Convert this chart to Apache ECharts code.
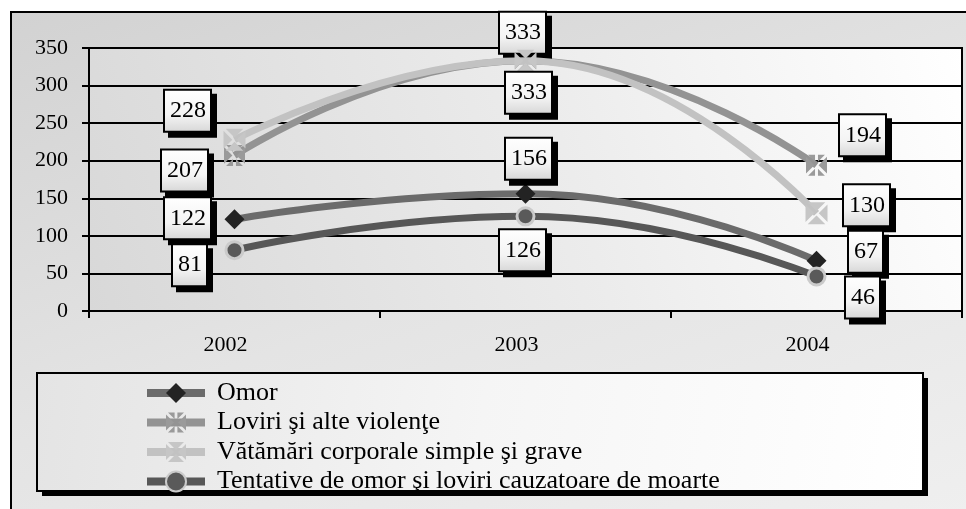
<!DOCTYPE html>
<html>
<head>
<meta charset="utf-8">
<script src="https://cdn.jsdelivr.net/npm/echarts@6/dist/echarts.min.js"></script>
<style>
  html, body { margin: 0; padding: 0; background: #fff; }
  #wrap { position: relative; width: 966px; height: 509px; overflow: hidden; }
  #frame {
    position: absolute; left: 10px; top: 11px; width: 1000px; height: 600px;
    border: 2px solid #000;
    background: linear-gradient(160deg, #d2d2d2 0%, #e4e4e4 45%, #f2f2f2 100%);
  }
  #chart { position: absolute; left: 0; top: 0; width: 966px; height: 509px; }
</style>
</head>
<body>
<div id="wrap">
  <div id="frame"></div>
  <div id="chart"></div>
</div>
<script>
  // ani
  var years = ['2002', '2003', '2004']
  var yTicks = [0, 50, 100, 150, 200, 250, 300, 350]

  var omor = [122, 156, 67]
  var loviri = [207, 333, 194]
  var vatamari = [228, 333, 130]
  var tentative = [81, 126, 46]

  var names = [
    'Omor',
    'Loviri şi alte violenţe',
    'Vătămări corporale simple şi grave',
    'Tentative de omor şi loviri cauzatoare de moarte'
  ]

  // unde stau etichetele fata de punct
  var offOmor = [[-47, -1], [3, -35], [49, -9]]
  var offLoviri = [[-50, 15], [-3, -28], [46, -30]]
  var offVatamari = [[-47, -29], [3, 32], [50, -8]]
  var offTentative = [[-45, 15], [-3, 34], [46, 21]]

  var FONT = 'Liberation Serif'

  // patrat cu X / asterisc (goluri intre triunghiuri)
  var symX = 'path://M2,0L18,0L10,8ZM20,2L20,18L12,10ZM2,20L18,20L10,12ZM0,2L0,18L8,10Z'
  var symStar = 'path://M2,0L8.6,0L8.6,6.6ZM11.4,0L18,0L11.4,6.6ZM20,2L20,18L12,10ZM2,20L8.6,20L8.6,13.4ZM11.4,20L18,20L11.4,13.4ZM0,2L0,18L8,10Z'

  function labelBox() {
    return {
      show: true,
      position: 'inside',
      color: '#000',
      fontFamily: FONT,
      fontSize: 24,
      lineHeight: 26,
      padding: [8, 4, 6, 5],
      borderColor: '#000',
      borderWidth: 2,
      backgroundColor: {
        type: 'linear', x: 0, y: 0, x2: 0, y2: 1,
        colorStops: [{offset: 0, color: '#ffffff'}, {offset: 0.6, color: '#f4f4f4'}, {offset: 1, color: '#d6d6d6'}]
      },
      shadowColor: '#000',
      shadowBlur: 0,
      shadowOffsetX: 5,
      shadowOffsetY: 5
    }
  }

  function points(values, offs) {
    return values.map(function (v, i) {
      var lb = labelBox()
      lb.offset = offs[i]
      return { value: v, label: lb }
    })
  }

  function makeSeries(name, values, offs, lineColor, symbol, symbolSize, itemStyle, z) {
    return {
      name: name,
      type: 'line',
      smooth: 0.5,
      z: z,
      data: points(values, offs),
      symbol: symbol,
      symbolSize: symbolSize,
      showAllSymbol: true,
      lineStyle: { color: lineColor, width: 7 },
      itemStyle: itemStyle,
      emphasis: { disabled: true }
    }
  }

  var myChart = echarts.init(document.getElementById('chart'), null, { renderer: 'canvas' })

  var option = {
    backgroundColor: 'transparent',
    animation: false,
    grid: {
      left: 89,
      right: 4,
      top: 48,
      bottom: 198,
      show: true,
      borderColor: '#000',
      borderWidth: 2,
      backgroundColor: {
        type: 'linear', x: 0, y: 1, x2: 1, y2: 0,
        colorStops: [{offset: 0, color: '#d8d8d8'}, {offset: 0.55, color: '#ececec'}, {offset: 1, color: '#ffffff'}]
      }
    },
    xAxis: {
      type: 'category',
      data: years,
      boundaryGap: true,
      axisLine: { lineStyle: { color: '#000', width: 2 } },
      axisTick: { show: true, length: 7, lineStyle: { color: '#000', width: 2 } },
      axisLabel: {
        color: '#000',
        fontFamily: FONT,
        fontSize: 22,
        margin: 23,
        padding: [0, 18, 0, 0]
      },
      splitLine: { show: false }
    },
    yAxis: {
      type: 'value',
      min: yTicks[0],
      max: yTicks[yTicks.length - 1],
      interval: 50,
      axisLine: { show: true, lineStyle: { color: '#000', width: 2 } },
      axisTick: { show: true, length: 7, lineStyle: { color: '#000', width: 2 } },
      axisLabel: {
        color: '#000',
        fontFamily: FONT,
        fontSize: 22,
        margin: 21
      },
      splitLine: { show: true, lineStyle: { color: '#000', width: 2 } }
    },
    graphic: [{
      // umbra casetei legendei
      type: 'rect',
      z: 1,
      shape: { x: 42, y: 378, width: 886, height: 118 },
      style: { fill: '#000' }
    }, {
      type: 'rect',
      z: 1,
      shape: { x: 37, y: 373, width: 886, height: 118 },
      style: {
        fill: {
          type: 'linear', x: 0, y: 0, x2: 1, y2: 1,
          colorStops: [{offset: 0, color: '#e4e4e4'}, {offset: 0.5, color: '#f5f5f5'}, {offset: 1, color: '#ffffff'}]
        },
        stroke: '#000',
        lineWidth: 2
      }
    }],
    legend: {
      orient: 'vertical',
      left: 143,
      top: 380,
      padding: 0,
      z: 5,
      data: names,
      itemWidth: 58,
      itemHeight: 25,
      itemGap: 3.5,
      selectedMode: false,
      lineStyle: { width: 8 },
      textStyle: {
        color: '#000',
        fontFamily: FONT,
        fontSize: 26,
        padding: [0, 0, 0, 7]
      }
    },
    series: [
      makeSeries(names[0], omor, offOmor, '#6b6b6b', 'diamond', 20, { color: '#232323' }, 4),
      makeSeries(names[1], loviri, offLoviri, '#939393', symStar, 21, { color: '#9a9a9a' }, 2),
      makeSeries(names[2], vatamari, offVatamari, '#c2c2c2', symX, 22, { color: '#c6c6c6' }, 3),
      makeSeries(names[3], tentative, offTentative, '#575757', 'circle', 17, { color: '#5a5a5a', borderColor: '#cbcbcb', borderWidth: 3 }, 5)
    ]
  }

  myChart.setOption(option)
</script>
</body>
</html>
